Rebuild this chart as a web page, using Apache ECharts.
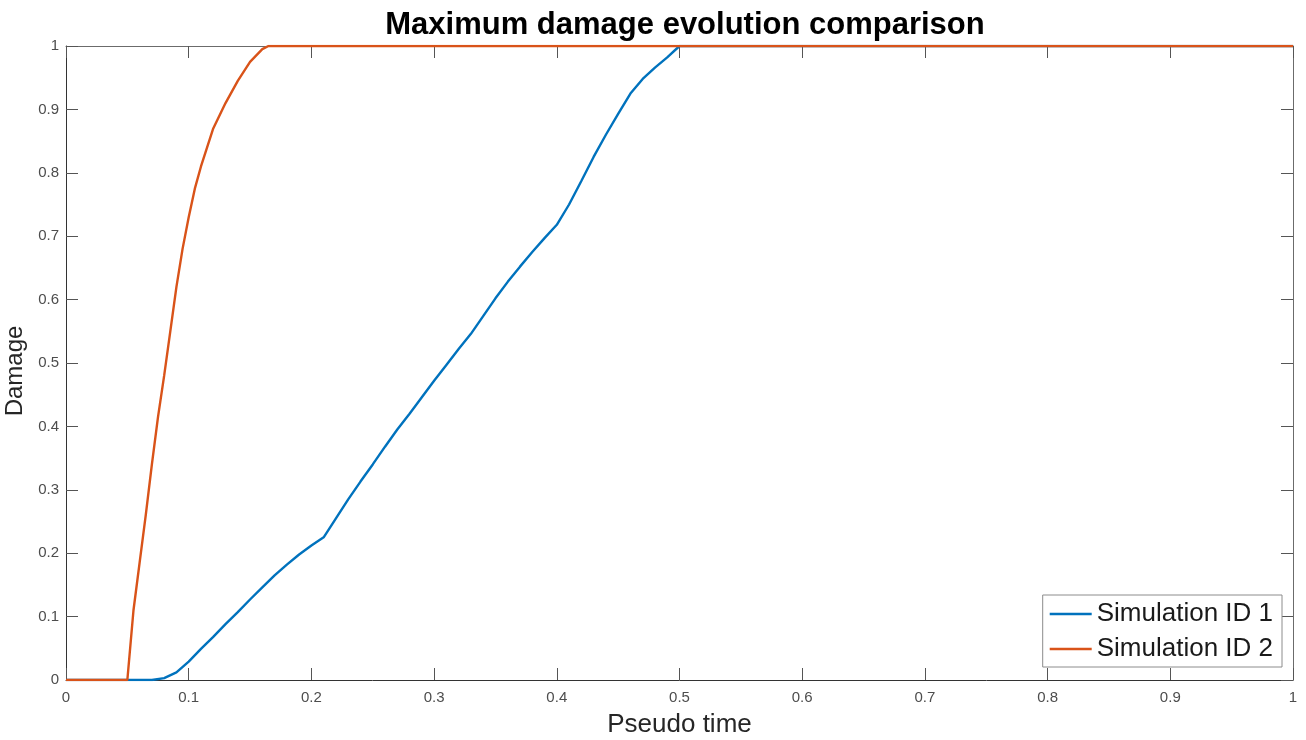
<!DOCTYPE html>
<html>
<head>
<meta charset="utf-8">
<title>Maximum damage evolution comparison</title>
<script src="https://cdn.jsdelivr.net/npm/echarts@6/dist/echarts.min.js"></script>
<style>
  html, body { margin: 0; padding: 0; background: #ffffff; }
  #chart { width: 1306px; height: 740px; }
</style>
</head>
<body>
<div id="chart"></div>
<script>
// Pseudo time samples and maximum damage for each simulation
const sim1Time = [0, 0.05, 0.07, 0.08, 0.09, 0.10, 0.11, 0.12, 0.13, 0.14, 0.15, 0.16, 0.17, 0.18, 0.19, 0.20,
  0.21, 0.22, 0.23, 0.24, 0.25, 0.26, 0.27, 0.28, 0.29, 0.30, 0.31, 0.32, 0.33, 0.34, 0.35, 0.36, 0.37, 0.38,
  0.39, 0.40, 0.41, 0.42, 0.43, 0.44, 0.45, 0.46, 0.47, 0.48, 0.49, 0.50, 1.0];
const sim1Damage = [0, 0, 0, 0.003, 0.012, 0.029, 0.049, 0.068, 0.088, 0.107, 0.127, 0.146, 0.165, 0.182, 0.198, 0.212,
  0.225, 0.255, 0.285, 0.313, 0.340, 0.368, 0.395, 0.420, 0.446, 0.472, 0.497, 0.522, 0.546, 0.574, 0.602, 0.628, 0.652, 0.675,
  0.697, 0.718, 0.750, 0.787, 0.825, 0.860, 0.893, 0.925, 0.948, 0.966, 0.982, 1.0, 1.0];

const sim2Time = [0, 0.05, 0.055, 0.06, 0.065, 0.07, 0.075, 0.08, 0.085, 0.09, 0.095, 0.10, 0.105, 0.11,
  0.115, 0.12, 0.13, 0.14, 0.15, 0.16, 0.165, 1.0];
const sim2Damage = [0, 0, 0.11, 0.185, 0.26, 0.34, 0.415, 0.48, 0.55, 0.62, 0.68, 0.73, 0.775, 0.81,
  0.84, 0.87, 0.91, 0.945, 0.975, 0.995, 1.0, 1.0];

const seriesNames = ['Simulation ID 1', 'Simulation ID 2'];
const seriesColors = ['#0072BD', '#D95319'];
const tickValues = [0, 0.1, 0.2, 0.3, 0.4, 0.5, 0.6, 0.7, 0.8, 0.9, 1];

const pairs = (xs, ys) => xs.map((x, i) => [x, ys[i]]);

const axisDark = '#333333';
const axisLight = '#6b6b6b';
const labelColor = '#4d4d4d';
const fontFamily = 'Liberation Sans, Arial, Helvetica, sans-serif';
const tickText = v => String(Math.round(v * 10) / 10);

function valueAxis(extra) {
  return Object.assign({
    type: 'value',
    min: tickValues[0],
    max: tickValues[tickValues.length - 1],
    interval: 0.1,
    splitLine: { show: false },
    axisTick: { show: true, inside: true, length: 12, lineStyle: { color: '#555555', width: 1 } },
    axisLine: { show: true, onZero: false, lineStyle: { color: axisDark, width: 1 } },
    axisLabel: { color: labelColor, fontSize: 15, fontFamily: fontFamily, formatter: tickText }
  }, extra);
}

const chart = echarts.init(document.getElementById('chart'), null, { renderer: 'canvas' });

chart.setOption({
  animation: false,
  backgroundColor: '#ffffff',
  title: {
    text: 'Maximum damage evolution comparison',
    left: 680,
    textAlign: 'center',
    top: 5,
    textStyle: { fontFamily: fontFamily, fontWeight: 'bold', fontSize: 31, color: '#000000' }
  },
  grid: { left: 66, right: 13, top: 46, bottom: 60, containLabel: false, outerBoundsMode: 'none' },
  legend: {
    orient: 'vertical',
    right: 24,
    bottom: 73,
    icon: 'rect',
    itemWidth: 42,
    itemHeight: 2.5,
    itemGap: 5,
    padding: [4, 9, 3, 7],
    backgroundColor: '#ffffff',
    borderColor: '#8c8c8c',
    borderWidth: 1,
    textStyle: { fontFamily: fontFamily, fontSize: 26, color: '#1a1a1a', lineHeight: 30 },
    data: seriesNames
  },
  xAxis: [
    valueAxis({
      position: 'bottom',
      name: 'Pseudo time',
      nameLocation: 'middle',
      nameGap: 32,
      nameTextStyle: { fontFamily: fontFamily, fontSize: 26, color: '#262626' },
      axisLabel: { color: labelColor, fontSize: 15, fontFamily: fontFamily, margin: 10, formatter: tickText }
    }),
    valueAxis({
      position: 'top',
      axisLabel: { show: false },
      axisLine: { show: true, onZero: false, lineStyle: { color: axisLight, width: 1 } }
    })
  ],
  yAxis: [
    valueAxis({
      position: 'left',
      name: 'Damage',
      nameLocation: 'middle',
      nameGap: 38,
      nameTextStyle: { fontFamily: fontFamily, fontSize: 24, color: '#262626', padding: [0, 16, 0, 0] },
      axisLabel: { color: labelColor, fontSize: 15, fontFamily: fontFamily, margin: 7, formatter: tickText }
    }),
    valueAxis({
      position: 'right',
      axisLabel: { show: false },
      axisLine: { show: true, onZero: false, lineStyle: { color: axisLight, width: 1 } }
    })
  ],
  series: [
    {
      name: seriesNames[0],
      type: 'line',
      data: pairs(sim1Time, sim1Damage),
      showSymbol: false,
      lineStyle: { color: seriesColors[0], width: 2.4 },
      itemStyle: { color: seriesColors[0] },
      z: 2
    },
    {
      name: seriesNames[1],
      type: 'line',
      data: pairs(sim2Time, sim2Damage),
      showSymbol: false,
      lineStyle: { color: seriesColors[1], width: 2.4 },
      itemStyle: { color: seriesColors[1] },
      z: 3
    }
  ]
});
</script>
</body>
</html>
